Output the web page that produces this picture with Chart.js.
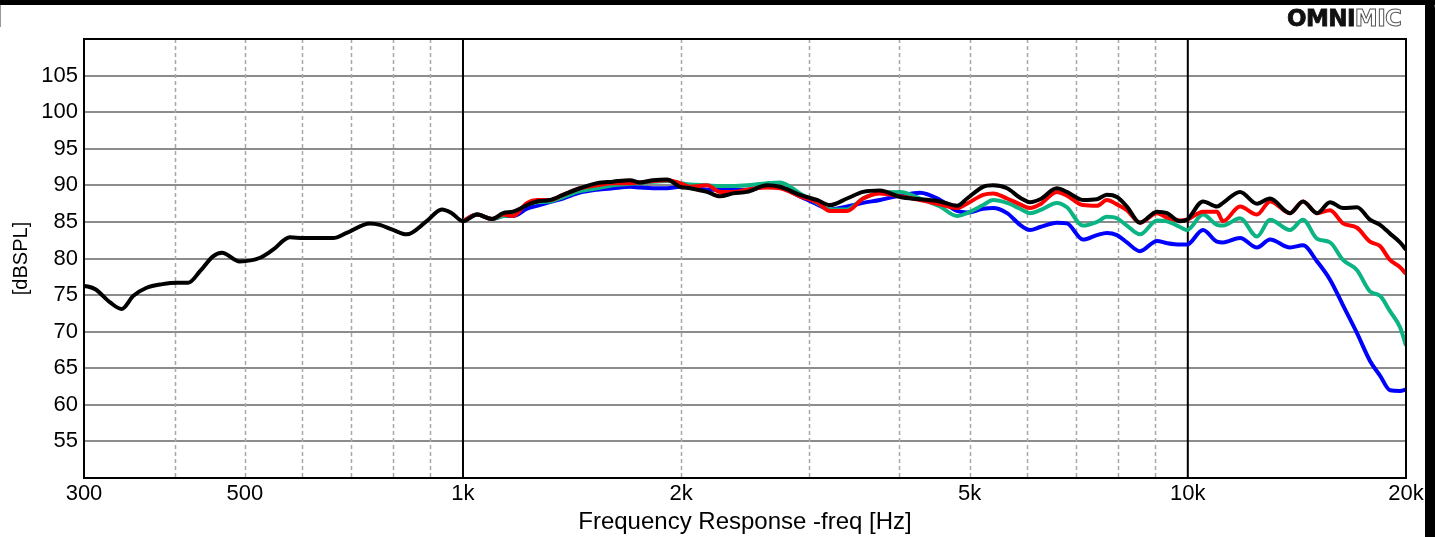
<!DOCTYPE html>
<html>
<head>
<meta charset="utf-8">
<script src="https://cdn.jsdelivr.net/npm/chart.js@4.4.1/dist/chart.umd.min.js"></script>
<style>
  html, body { margin: 0; padding: 0; background: #fff; }
  #wrap { position: relative; width: 1435px; height: 537px; overflow: hidden; }
  #topbar { position: absolute; left: 0; top: 0; width: 1435px; height: 5px; background: #000; }
  #rightbar { position: absolute; right: 0; top: 0; width: 10px; height: 537px; background: #000; border-top-right-radius: 8px; }
  #leftline { position: absolute; left: 0; top: 5px; width: 1px; height: 22px; background: #999; }
  #logo { position: absolute; left: 1287px; top: 5px; font-family: "DejaVu Sans", sans-serif; font-weight: bold; font-size: 23px; letter-spacing: -0.6px; color: #111; }
  #logo .b { -webkit-text-stroke: 0.8px #111; }
  #logo .o { color: #fff; -webkit-text-stroke: 1px #555; }
</style>
</head>
<body>
<div id="wrap">
  <canvas id="c" width="1435" height="537"></canvas>
  <div id="topbar"></div>
  <div id="rightbar"></div>
  <div id="leftline"></div>
  <div id="logo"><span class="b">OMNI</span><span class="o">MIC</span></div>
</div>
<script>
// ---- Data (Hz, dBSPL) ----
const lowFreq = [300, 311, 326, 338, 351, 366, 385, 403, 418, 434, 452, 465, 492, 525, 547, 577, 602, 635, 662, 691, 744, 768, 801, 836, 891, 935, 965];
const blackLow = [76.3, 75.8, 74.0, 73.1, 74.9, 76.0, 76.5, 76.7, 76.7, 78.3, 80.3, 80.8, 79.6, 80.1, 81.2, 82.9, 82.8, 82.8, 82.8, 83.5, 84.8, 84.6, 83.9, 83.3, 85.1, 86.7, 86.2];

const freq = [1000, 1046, 1097, 1136, 1172, 1226, 1265, 1318, 1374, 1450, 1531, 1610, 1700, 1755, 1829, 1912, 1993, 2057, 2171, 2263, 2358, 2465, 2627, 2738, 2917, 3079, 3209, 3387, 3564, 3761, 4009, 4272, 4552, 4805, 4960, 5219, 5387, 5632, 5870, 6059, 6255, 6598, 6811, 7166, 7492, 7734, 7983, 8241, 8589, 9066, 9359, 9755, 9974, 10494, 10972, 11183, 11804, 12459, 12986, 13836, 14419, 15075, 15711, 16373, 17118, 17840, 18415, 19010, 19624, 20000];

const blackHigh = [85.1, 86.0, 85.4, 86.2, 86.4, 87.3, 87.8, 88.0, 88.7, 89.6, 90.3, 90.5, 90.7, 90.4, 90.7, 90.8, 89.8, 89.6, 89.1, 88.5, 88.9, 89.1, 90.0, 89.8, 88.7, 88.0, 87.3, 88.2, 89.1, 89.3, 88.4, 88.1, 87.8, 87.2, 88.2, 89.8, 90.0, 89.6, 88.3, 87.7, 88.1, 89.6, 89.1, 88.0, 88.1, 88.7, 88.4, 87.1, 84.9, 86.4, 86.2, 85.1, 85.3, 87.8, 87.1, 87.6, 89.1, 87.5, 88.2, 86.2, 87.8, 86.2, 87.7, 86.9, 87.0, 85.3, 84.6, 83.4, 82.2, 81.2];

const red = [85.1, 86.0, 85.4, 86.0, 85.8, 87.6, 88.0, 88.0, 88.7, 89.6, 90.0, 90.3, 90.3, 90.4, 90.6, 90.7, 90.3, 89.8, 90.0, 89.1, 89.1, 89.4, 89.7, 89.6, 88.5, 87.7, 86.5, 86.5, 88.2, 88.9, 88.5, 88.0, 87.4, 86.9, 87.5, 88.7, 88.9, 88.2, 87.4, 86.9, 87.4, 89.1, 88.6, 87.3, 87.2, 88.0, 87.4, 86.6, 84.9, 86.2, 85.6, 85.2, 85.3, 86.4, 86.4, 85.1, 87.1, 86.0, 87.8, 86.2, 87.8, 86.2, 86.6, 84.8, 84.2, 82.3, 81.7, 79.8, 78.8, 77.9];

const green = [85.1, 86.0, 85.4, 85.8, 86.0, 87.4, 87.7, 87.8, 88.4, 89.2, 89.6, 90.0, 90.2, 90.3, 90.5, 90.6, 90.3, 90.1, 90.0, 89.9, 89.9, 90.0, 90.3, 90.4, 88.9, 87.6, 86.7, 86.7, 88.2, 89.0, 89.1, 88.2, 87.1, 85.8, 86.2, 87.3, 88.0, 87.6, 86.8, 86.2, 86.6, 87.6, 87.0, 84.5, 85.0, 85.7, 85.5, 84.5, 83.3, 85.2, 85.1, 84.3, 83.9, 86.0, 84.6, 84.5, 85.5, 83.0, 85.3, 83.9, 85.3, 82.7, 82.2, 79.8, 78.4, 75.5, 74.9, 72.8, 70.6, 68.1];

const blue = [85.1, 86.0, 85.4, 85.8, 85.8, 86.8, 87.2, 87.7, 88.2, 89.0, 89.4, 89.6, 89.8, 89.7, 89.6, 89.6, 89.8, 89.8, 89.4, 89.4, 89.4, 89.4, 89.8, 89.7, 88.5, 87.4, 86.7, 87.1, 87.6, 88.0, 88.6, 89.0, 88.0, 86.5, 86.3, 86.8, 86.9, 86.2, 84.6, 83.9, 84.3, 84.9, 84.8, 82.6, 83.2, 83.5, 83.2, 82.2, 81.0, 82.4, 82.1, 81.9, 81.9, 83.9, 82.3, 82.2, 82.8, 81.5, 82.6, 81.5, 81.8, 79.6, 77.1, 73.6, 69.8, 66.0, 64.0, 62.0, 61.9, 62.1];

const xTickValues = [300, 400, 500, 600, 700, 800, 900, 1000, 2000, 3000, 4000, 5000, 6000, 7000, 8000, 9000, 10000, 20000];
const xTickLabels = { 300: '300', 500: '500', 1000: '1k', 2000: '2k', 5000: '5k', 10000: '10k', 20000: '20k' };
const xMajorLines = [1000, 10000];
const xMinorLines = [400, 500, 600, 700, 800, 900, 2000, 3000, 4000, 5000, 6000, 7000, 8000, 9000];

const pts = (xs, ys) => xs.map((f, i) => ({ x: f, y: ys[i] }));

const vGrid = {
  id: 'vGrid',
  beforeDatasetsDraw(chart) {
    const { ctx, chartArea: a, scales: { x } } = chart;
    ctx.save();
    xMinorLines.forEach(v => {
      const px = Math.round(x.getPixelForValue(v)) + 0.5;
      ctx.beginPath();
      ctx.setLineDash([4, 3]);
      ctx.lineWidth = 1.5;
      ctx.strokeStyle = '#a8a8a8';
      ctx.moveTo(px, a.top); ctx.lineTo(px, a.bottom); ctx.stroke();
    });
    xMajorLines.forEach(v => {
      const px = x.getPixelForValue(v);
      ctx.beginPath();
      ctx.setLineDash([]);
      ctx.lineWidth = 2;
      ctx.strokeStyle = '#000';
      ctx.moveTo(px, a.top); ctx.lineTo(px, a.bottom); ctx.stroke();
    });
    ctx.restore();
  },
  afterDatasetsDraw(chart) {
    const { ctx, chartArea: a } = chart;
    ctx.save();
    ctx.lineWidth = 2;
    ctx.strokeStyle = '#000';
    ctx.strokeRect(a.left, a.top, a.right - a.left, a.bottom - a.top);
    ctx.restore();
  }
};

const common = { fill: false, pointRadius: 0, borderWidth: 4, cubicInterpolationMode: 'monotone' };

new Chart(document.getElementById('c'), {
  type: 'line',
  data: {
    datasets: [
      { ...common, label: 'black', data: pts(lowFreq.concat(freq), blackLow.concat(blackHigh)), borderColor: '#000000' },
      { ...common, label: 'red', data: pts(freq, red), borderColor: '#ff0000' },
      { ...common, label: 'green', data: pts(freq, green), borderColor: '#0cb383' },
      { ...common, label: 'blue', data: pts(freq, blue), borderColor: '#0000ff' }
    ]
  },
  options: {
    responsive: false,
    animation: false,
    devicePixelRatio: 1,
    layout: { padding: { top: 39, right: 29, left: 0, bottom: 0 } },
    plugins: { legend: { display: false }, tooltip: { enabled: false } },
    scales: {
      x: {
        type: 'logarithmic',
        min: 300, max: 20000,
        afterBuildTicks: s => { s.ticks = xTickValues.map(v => ({ value: v })); },
        afterFit: s => { s.height = 59; },
        grid: { display: false, drawTicks: false, tickLength: 0 },
        border: { display: false },
        ticks: {
          autoSkip: false, maxRotation: 0, padding: 3,
          color: '#000',
          font: { family: '"Liberation Sans", Arial, sans-serif', size: 22 },
          callback: v => xTickLabels[v] || ''
        },
        title: {
          display: true, text: 'Frequency Response -freq [Hz]', color: '#000',
          font: { family: '"Liberation Sans", Arial, sans-serif', size: 24 },
          padding: { top: 0, bottom: 0 }
        }
      },
      y: {
        min: 50, max: 110,
        afterFit: s => { s.width = 84; },
        grid: { color: '#8c8c8c', lineWidth: 2, drawTicks: false },
        border: { display: false },
        ticks: {
          stepSize: 5, padding: 6, color: '#000',
          font: { family: '"Liberation Sans", Arial, sans-serif', size: 22 },
          callback: v => (v === 50 || v === 110) ? '' : String(v)
        },
        title: {
          display: true, text: '[dBSPL]', color: '#000',
          font: { family: '"Liberation Sans", Arial, sans-serif', size: 20 },
          padding: { top: 9, bottom: 0 }
        }
      }
    }
  },
  plugins: [vGrid]
});
</script>
</body>
</html>
